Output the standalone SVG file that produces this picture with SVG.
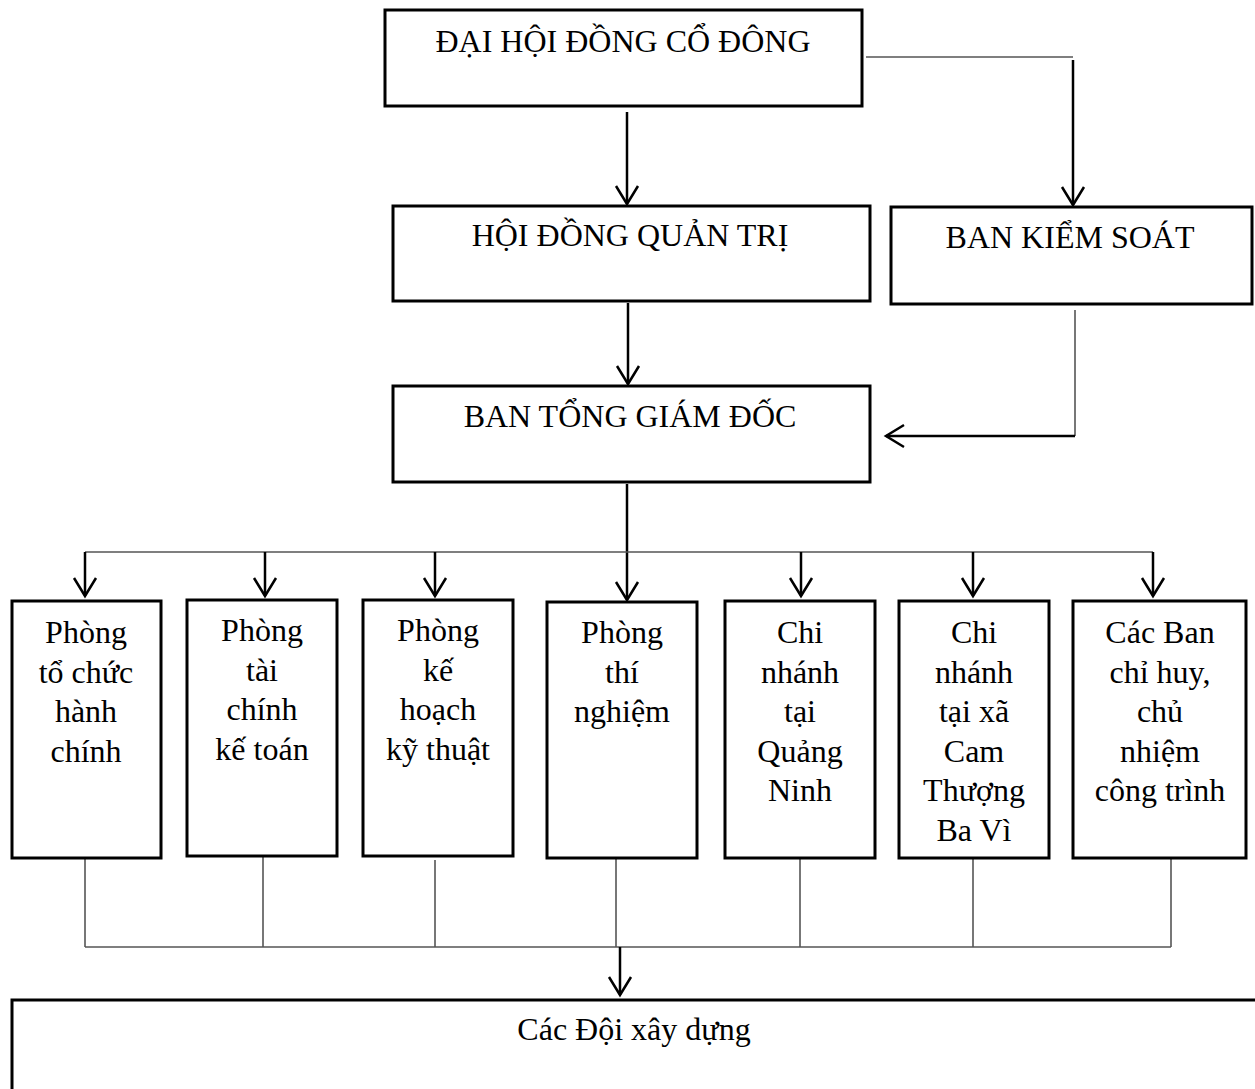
<svg xmlns="http://www.w3.org/2000/svg" width="1255" height="1089" viewBox="0 0 1255 1089">
<style>
.box{fill:#fff;stroke:#000;stroke-width:3}
.t{font-family:"Liberation Serif","Times New Roman",serif;font-size:32px;fill:#000;text-anchor:middle}
.arr{fill:none;stroke:#000;stroke-width:2.5;marker-end:url(#ah)}
.ln{fill:none;stroke:#555;stroke-width:1.6}
.lnk{fill:none;stroke:#000;stroke-width:2.2}
</style>
<defs>
<marker id="ah" markerUnits="userSpaceOnUse" markerWidth="40" markerHeight="40" viewBox="-20 -20 40 40" refX="0" refY="0" orient="auto" overflow="visible">
<path d="M-18,-11 L0,0 L-18,11" fill="none" stroke="#000" stroke-width="2.5"/>
</marker>
</defs>
<rect width="1255" height="1089" fill="#fff"/>
<g id="connectors">
<line class="arr" x1="627" y1="112" x2="627" y2="204"/>
<line class="ln" x1="866" y1="57" x2="1073" y2="57"/>
<line class="arr" x1="1073" y1="60" x2="1073" y2="205"/>
<line class="ln" x1="1075" y1="310" x2="1075" y2="436"/>
<line class="arr" x1="1075" y1="436" x2="886" y2="436"/>
<line class="arr" x1="628" y1="303" x2="628" y2="384"/>
<line class="arr" x1="627" y1="484" x2="627" y2="600"/>
<line class="ln" x1="85" y1="552" x2="1153" y2="552"/>
<line class="arr" x1="85" y1="552" x2="85" y2="596"/>
<line class="arr" x1="265" y1="552" x2="265" y2="596"/>
<line class="arr" x1="435" y1="552" x2="435" y2="596"/>
<line class="arr" x1="801" y1="552" x2="801" y2="596"/>
<line class="arr" x1="973" y1="552" x2="973" y2="596"/>
<line class="arr" x1="1153" y1="552" x2="1153" y2="596"/>
<line class="ln" x1="85" y1="858" x2="85" y2="947"/>
<line class="ln" x1="263" y1="856" x2="263" y2="947"/>
<line class="ln" x1="435" y1="860" x2="435" y2="947"/>
<line class="ln" x1="616" y1="858" x2="616" y2="947"/>
<line class="ln" x1="800" y1="858" x2="800" y2="947"/>
<line class="ln" x1="973" y1="858" x2="973" y2="947"/>
<line class="ln" x1="1171" y1="858" x2="1171" y2="947"/>
<line class="ln" x1="85" y1="947" x2="1171" y2="947"/>
<line class="arr" x1="620" y1="947" x2="620" y2="995"/>
</g>
<g id="dhdcd">
<rect class="box" x="385" y="10" width="477" height="96"/>
<text class="t" x="623" y="52">ĐẠI HỘI ĐỒNG CỔ ĐÔNG</text>
</g>
<g id="hdqt">
<rect class="box" x="393" y="206" width="477" height="95"/>
<text class="t" x="630" y="246">HỘI ĐỒNG QUẢN TRỊ</text>
</g>
<g id="bks">
<rect class="box" x="891" y="207" width="361" height="97"/>
<text class="t" x="1070" y="248">BAN KIỂM SOÁT</text>
</g>
<g id="btgd">
<rect class="box" x="393" y="386" width="477" height="96"/>
<text class="t" x="630" y="427">BAN TỔNG GIÁM ĐỐC</text>
</g>
<g id="p1">
<rect class="box" x="12" y="601" width="149" height="257"/>
<text class="t" x="86" y="643"><tspan x="86">Phòng</tspan><tspan x="86" dy="39.5">tổ chức</tspan><tspan x="86" dy="39.5">hành</tspan><tspan x="86" dy="39.5">chính</tspan></text>
</g>
<g id="p2">
<rect class="box" x="187" y="600" width="150" height="256"/>
<text class="t" x="262" y="641"><tspan x="262">Phòng</tspan><tspan x="262" dy="39.5">tài</tspan><tspan x="262" dy="39.5">chính</tspan><tspan x="262" dy="39.5">kế toán</tspan></text>
</g>
<g id="p3">
<rect class="box" x="363" y="600" width="150" height="256"/>
<text class="t" x="438" y="641"><tspan x="438">Phòng</tspan><tspan x="438" dy="39.5">kế</tspan><tspan x="438" dy="39.5">hoạch</tspan><tspan x="438" dy="39.5">kỹ thuật</tspan></text>
</g>
<g id="p4">
<rect class="box" x="547" y="602" width="150" height="256"/>
<text class="t" x="622" y="643"><tspan x="622">Phòng</tspan><tspan x="622" dy="39.5">thí</tspan><tspan x="622" dy="39.5">nghiệm</tspan></text>
</g>
<g id="p5">
<rect class="box" x="725" y="601" width="150" height="257"/>
<text class="t" x="800" y="643"><tspan x="800">Chi</tspan><tspan x="800" dy="39.5">nhánh</tspan><tspan x="800" dy="39.5">tại</tspan><tspan x="800" dy="39.5">Quảng</tspan><tspan x="800" dy="39.5">Ninh</tspan></text>
</g>
<g id="p6">
<rect class="box" x="899" y="601" width="150" height="257"/>
<text class="t" x="974" y="643"><tspan x="974">Chi</tspan><tspan x="974" dy="39.5">nhánh</tspan><tspan x="974" dy="39.5">tại xã</tspan><tspan x="974" dy="39.5">Cam</tspan><tspan x="974" dy="39.5">Thượng</tspan><tspan x="974" dy="39.5">Ba Vì</tspan></text>
</g>
<g id="p7">
<rect class="box" x="1073" y="601" width="173" height="257"/>
<text class="t" x="1160" y="643"><tspan x="1160">Các Ban</tspan><tspan x="1160" dy="39.5">chỉ huy,</tspan><tspan x="1160" dy="39.5">chủ</tspan><tspan x="1160" dy="39.5">nhiệm</tspan><tspan x="1160" dy="39.5">công trình</tspan></text>
</g>
<g id="doi">
<rect class="box" x="12" y="1000" width="1260" height="120"/>
<text class="t" x="634" y="1040">Các Đội xây dựng</text>
</g>
</svg>
